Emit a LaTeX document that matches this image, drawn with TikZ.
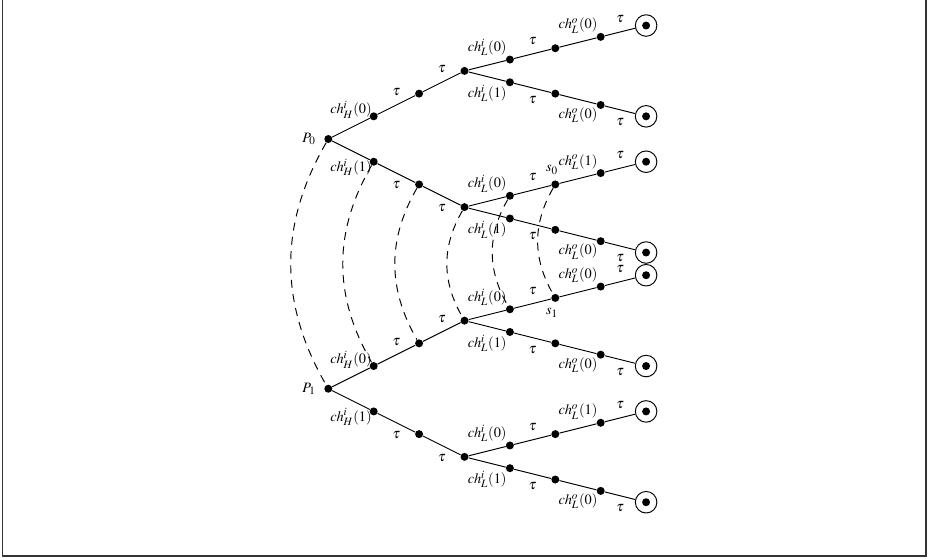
\documentclass[tikz,border=0pt]{standalone}
\usepackage{mathptmx}
\usepackage{tikz}
\tikzset{
  dot/.style={circle, fill, inner sep=0pt, minimum size=5pt},
  sink/.style={circle, draw, semithick, inner sep=0pt, minimum size=13.5pt,
    path picture={\fill (path picture bounding box.center) circle (2.5pt);}},
  lbl/.style={font=\small, inner sep=1pt},
  hi/.style={lbl, above=4.5pt},
  lo/.style={lbl, below=4pt},
  link/.style={semithick},
  sync/.style={semithick, dash pattern=on 5pt off 4pt},
  frame/.style={line width=1pt, black!80}
}

\begin{document}
\begin{tikzpicture}
  \useasboundingbox (-7.231,-9.229) rectangle (13.231,3.062);
  \draw[frame] (-7.176,3.062) -- (-7.176,-9.185) -- (13.165,-9.185) -- (13.165,3.062);

  % process P0
  \node[dot, label={[lbl, label distance=4pt]left:$P_0$}] (p0) at (0,0) {};
  \node[dot] (p0u1) at (1,0.5) {};
  \node[dot] (p0u2) at (2,1) {};
  \node[dot] (p0u3) at (3,1.5) {};
  \node[dot] (p0uu1) at (4,1.75) {};
  \node[dot] (p0uu2) at (5,2) {};
  \node[dot] (p0uu3) at (6,2.25) {};
  \node[sink] (p0uu4) at (7,2.5) {};
  \node[dot] (p0ud1) at (4,1.25) {};
  \node[dot] (p0ud2) at (5,1) {};
  \node[dot] (p0ud3) at (6,0.75) {};
  \node[sink] (p0ud4) at (7,0.5) {};
  \node[dot] (p0d1) at (1,-0.5) {};
  \node[dot] (p0d2) at (2,-1) {};
  \node[dot] (p0d3) at (3,-1.5) {};
  \node[dot] (p0du1) at (4,-1.25) {};
  \node[dot, label={[lbl, xshift=-2pt, label distance=2.5pt]above:$s_0$}] (p0du2) at (5,-1) {};
  \node[dot] (p0du3) at (6,-0.75) {};
  \node[sink] (p0du4) at (7,-0.5) {};
  \node[dot] (p0dd1) at (4,-1.75) {};
  \node[dot] (p0dd2) at (5,-2) {};
  \node[dot] (p0dd3) at (6,-2.25) {};
  \node[sink] (p0dd4) at (7,-2.5) {};

  % process P1
  \node[dot, label={[lbl, label distance=4pt]left:$P_1$}] (p1) at (0,-5.5) {};
  \node[dot] (p1u1) at (1,-5) {};
  \node[dot] (p1u2) at (2,-4.5) {};
  \node[dot] (p1u3) at (3,-4) {};
  \node[dot] (p1uu1) at (4,-3.75) {};
  \node[dot, label={[lbl, xshift=-2pt, label distance=2.5pt]below:$s_1$}] (p1uu2) at (5,-3.5) {};
  \node[dot] (p1uu3) at (6,-3.25) {};
  \node[sink] (p1uu4) at (7,-3) {};
  \node[dot] (p1ud1) at (4,-4.25) {};
  \node[dot] (p1ud2) at (5,-4.5) {};
  \node[dot] (p1ud3) at (6,-4.75) {};
  \node[sink] (p1ud4) at (7,-5) {};
  \node[dot] (p1d1) at (1,-6) {};
  \node[dot] (p1d2) at (2,-6.5) {};
  \node[dot] (p1d3) at (3,-7) {};
  \node[dot] (p1du1) at (4,-6.75) {};
  \node[dot] (p1du2) at (5,-6.5) {};
  \node[dot] (p1du3) at (6,-6.25) {};
  \node[sink] (p1du4) at (7,-6) {};
  \node[dot] (p1dd1) at (4,-7.25) {};
  \node[dot] (p1dd2) at (5,-7.5) {};
  \node[dot] (p1dd3) at (6,-7.75) {};
  \node[sink] (p1dd4) at (7,-8) {};

  % branches of P0
  \draw[link] (p0) -- node[hi] {$ch^i_H(0)$} (p0u1) -- node[hi] {$\tau$} (p0u2) -- node[hi] {$\tau$} (p0u3);
  \draw[link] (p0u3) -- node[hi] {$ch^i_L(0)$} (p0uu1) -- node[hi] {$\tau$} (p0uu2) -- node[hi] {$ch^o_L(0)$} (p0uu3) -- node[hi] {$\tau$} (p0uu4);
  \draw[link] (p0u3) -- node[lo] {$ch^i_L(1)$} (p0ud1) -- node[lo] {$\tau$} (p0ud2) -- node[lo] {$ch^o_L(0)$} (p0ud3) -- node[lo] {$\tau$} (p0ud4);
  \draw[link] (p0) -- node[lo] {$ch^i_H(1)$} (p0d1) -- node[lo] {$\tau$} (p0d2) -- node[lo] {$\tau$} (p0d3);
  \draw[link] (p0d3) -- node[hi] {$ch^i_L(0)$} (p0du1) -- node[hi] {$\tau$} (p0du2) -- node[hi] {$ch^o_L(1)$} (p0du3) -- node[hi] {$\tau$} (p0du4);
  \draw[link] (p0d3) -- node[lo] {$ch^i_L(1)$} (p0dd1) -- node[lo] {$\tau$} (p0dd2) -- node[lo] {$ch^o_L(0)$} (p0dd3) -- node[lo] {$\tau$} (p0dd4);

  % branches of P1
  \draw[link] (p1) -- node[hi] {$ch^i_H(0)$} (p1u1) -- node[hi] {$\tau$} (p1u2) -- node[hi] {$\tau$} (p1u3);
  \draw[link] (p1u3) -- node[hi] {$ch^i_L(0)$} (p1uu1) -- node[hi] {$\tau$} (p1uu2) -- node[hi] {$ch^o_L(0)$} (p1uu3) -- node[hi] {$\tau$} (p1uu4);
  \draw[link] (p1u3) -- node[lo] {$ch^i_L(1)$} (p1ud1) -- node[lo] {$\tau$} (p1ud2) -- node[lo] {$ch^o_L(0)$} (p1ud3) -- node[lo] {$\tau$} (p1ud4);
  \draw[link] (p1) -- node[lo] {$ch^i_H(1)$} (p1d1) -- node[lo] {$\tau$} (p1d2) -- node[lo] {$\tau$} (p1d3);
  \draw[link] (p1d3) -- node[hi] {$ch^i_L(0)$} (p1du1) -- node[hi] {$\tau$} (p1du2) -- node[hi] {$ch^o_L(1)$} (p1du3) -- node[hi] {$\tau$} (p1du4);
  \draw[link] (p1d3) -- node[lo] {$ch^i_L(1)$} (p1dd1) -- node[lo] {$\tau$} (p1dd2) -- node[lo] {$ch^o_L(0)$} (p1dd3) -- node[lo] {$\tau$} (p1dd4);

  % matching states of the two processes
  \draw[sync] (p0) to[bend right=30] (p1);
  \draw[sync] (p0d1) to[bend right=30] (p1u1);
  \draw[sync] (p0d2) to[bend right=30] (p1u2);
  \draw[sync] (p0d3) to[bend right=30] (p1u3);
  \draw[sync] (p0du1) to[bend right=30] (p1uu1);
  \draw[sync] (p0du2) to[bend right=30] (p1uu2);
\end{tikzpicture}
\end{document}
